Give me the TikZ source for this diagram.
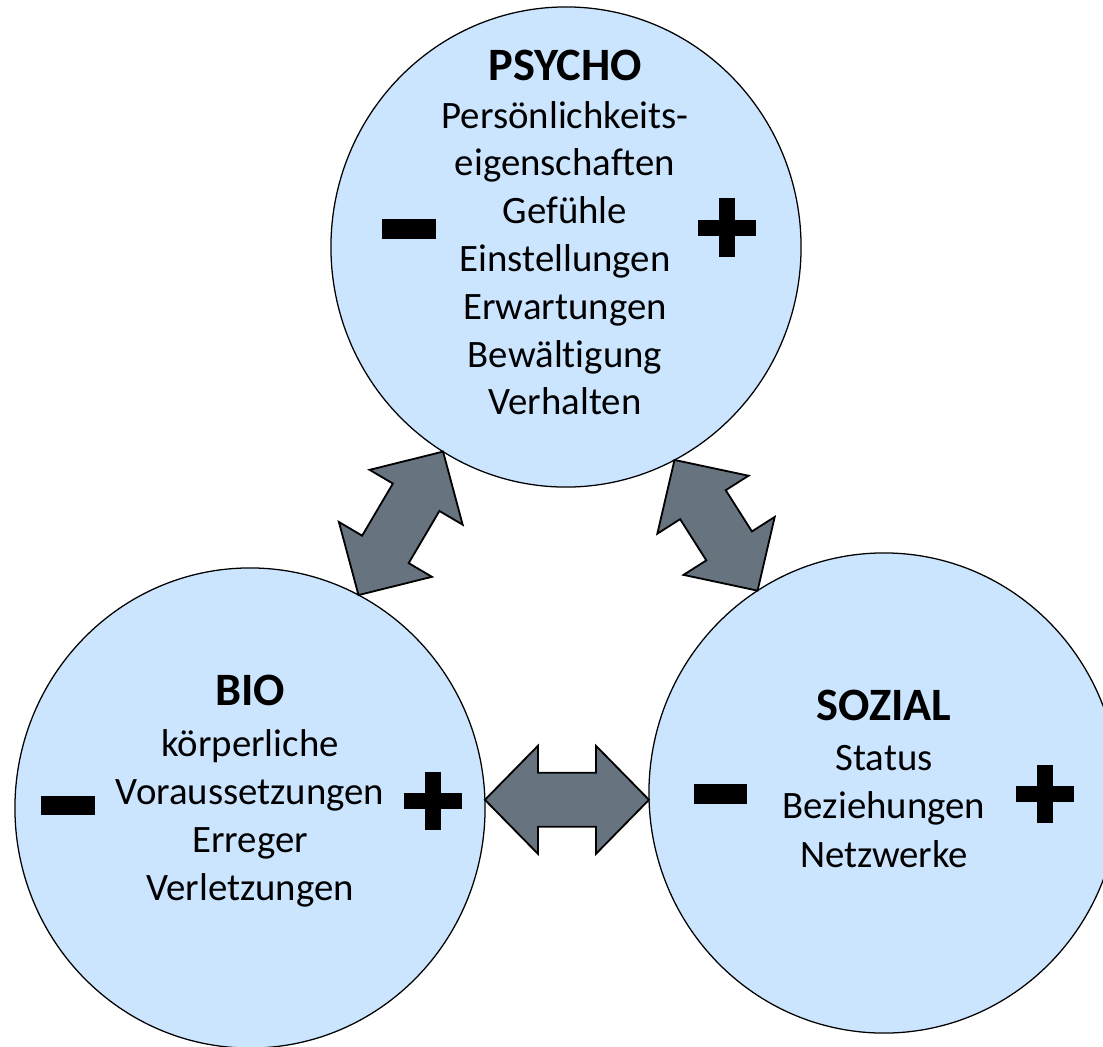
\documentclass[tikz,border=0pt]{standalone}
\usepackage{fontspec}
\setmainfont{Carlito}[Ligatures=NoCommon]
\usetikzlibrary{shapes.geometric,calc}

\definecolor{sphereblue}{RGB}{204,229,255}
\definecolor{arrowgray}{RGB}{103,116,128}

% Doppelpfeil zwischen zwei Randpunkten: Spitze, Kopf, Schaft, Kopf, Spitze
\newcommand\dblarrow[2]{%
    \draw[ArrowBody] (#1)
    -- ($(#1)!1.325cm!(#2)!1.35cm!90:(#2)$)
    -- ($(#1)!1.325cm!(#2)!0.675cm!90:(#2)$)
    -- ($(#2)!1.325cm!(#1)!0.675cm!-90:(#1)$)
    -- ($(#2)!1.325cm!(#1)!1.35cm!-90:(#1)$)
    -- (#2)
    -- ($(#2)!1.325cm!(#1)!1.35cm!90:(#1)$)
    -- ($(#2)!1.325cm!(#1)!0.675cm!90:(#1)$)
    -- ($(#1)!1.325cm!(#2)!0.675cm!-90:(#2)$)
    -- ($(#1)!1.325cm!(#2)!1.35cm!-90:(#2)$)
    -- cycle;}

\begin{document}
\begin{tikzpicture}
    [x=0.025cm, y=-0.025cm,
    Sphere/.style={ellipse, draw=black, line width=0.9pt, fill=sphereblue, minimum width=11.75cm, minimum height=12cm, inner sep=0pt, outer sep=0pt},
    Title/.style={anchor=base, font=\fontsize{33}{38}\selectfont\bfseries},
    Item/.style={anchor=base, font=\fontsize{27.6}{32}\selectfont},
    MinusBar/.style={rectangle, fill=black, minimum width=1.325cm, minimum height=0.49cm, inner sep=0pt},
    PlusBar/.style={rectangle, fill=black, minimum width=1.45cm, minimum height=0.4cm, inner sep=0pt},
    ArrowBody/.style={draw=black, line width=1.3pt, fill=arrowgray, line join=miter}]

    \useasboundingbox (0,0) rectangle (1103,1046);
    \clip (0,0) rectangle (1103,1046);

    % die drei Kreise
    \node[Sphere] (psycho) at (566,247) {};
    \node[Sphere] (bio) at (250,808) {};
    \node[Sphere] (sozial) at (884,793) {};

    % Wechselwirkungen
    \coordinate (bio-r) at (bio.2);
    \coordinate (sozial-l) at (bio-r -| sozial.181);
    \dblarrow{bio.63}{psycho.239}
    \dblarrow{psycho.297}{sozial.122}
    \dblarrow{bio-r}{sozial-l}

    % PSYCHO
    \node[Title] (psycho-t) at ($(psycho)+(-1,-167)$) {PSYCHO};
    \foreach \txt [count=\i] in {Persönlichkeits-,eigenschaften,Gefühle,Einstellungen,Erwartungen,Bewältigung,Verhalten}
        \node[Item] (psycho-\i) at ($(psycho)+(-1,-166.8+47.8*\i)$) {\txt};
    \node[MinusBar] (psycho-minus) at ($(psycho)+(-157,-18)$) {};
    \node[PlusBar] (psycho-plus) at ($(psycho)+(161,-19.5)$) {};
    \node[PlusBar, rotate=90] (psycho-plus-v) at (psycho-plus) {};

    % BIO
    \node[Title] (bio-t) at ($(bio)+(0,-103)$) {BIO};
    \foreach \txt [count=\i] in {körperliche,Voraussetzungen,Erreger,Verletzungen}
        \node[Item] (bio-\i) at ($(bio)+(0,-100+48*\i)$) {\txt};
    \node[MinusBar] (bio-minus) at ($(bio)+(-182,-2.5)$) {};
    \node[PlusBar] (bio-plus) at ($(bio)+(183,-7)$) {};
    \node[PlusBar, rotate=90] (bio-plus-v) at (bio-plus) {};

    % SOZIAL
    \node[Title] (sozial-t) at ($(sozial)+(0,-73)$) {SOZIAL};
    \foreach \txt [count=\i] in {Status,Beziehungen,Netzwerke}
        \node[Item] (sozial-\i) at ($(sozial)+(0,-71.5+48.5*\i)$) {\txt};
    \node[MinusBar] (sozial-minus) at ($(sozial)+(-164,1)$) {};
    \node[PlusBar] (sozial-plus) at ($(sozial)+(161,1)$) {};
    \node[PlusBar, rotate=90] (sozial-plus-v) at (sozial-plus) {};

\end{tikzpicture}
\end{document}
